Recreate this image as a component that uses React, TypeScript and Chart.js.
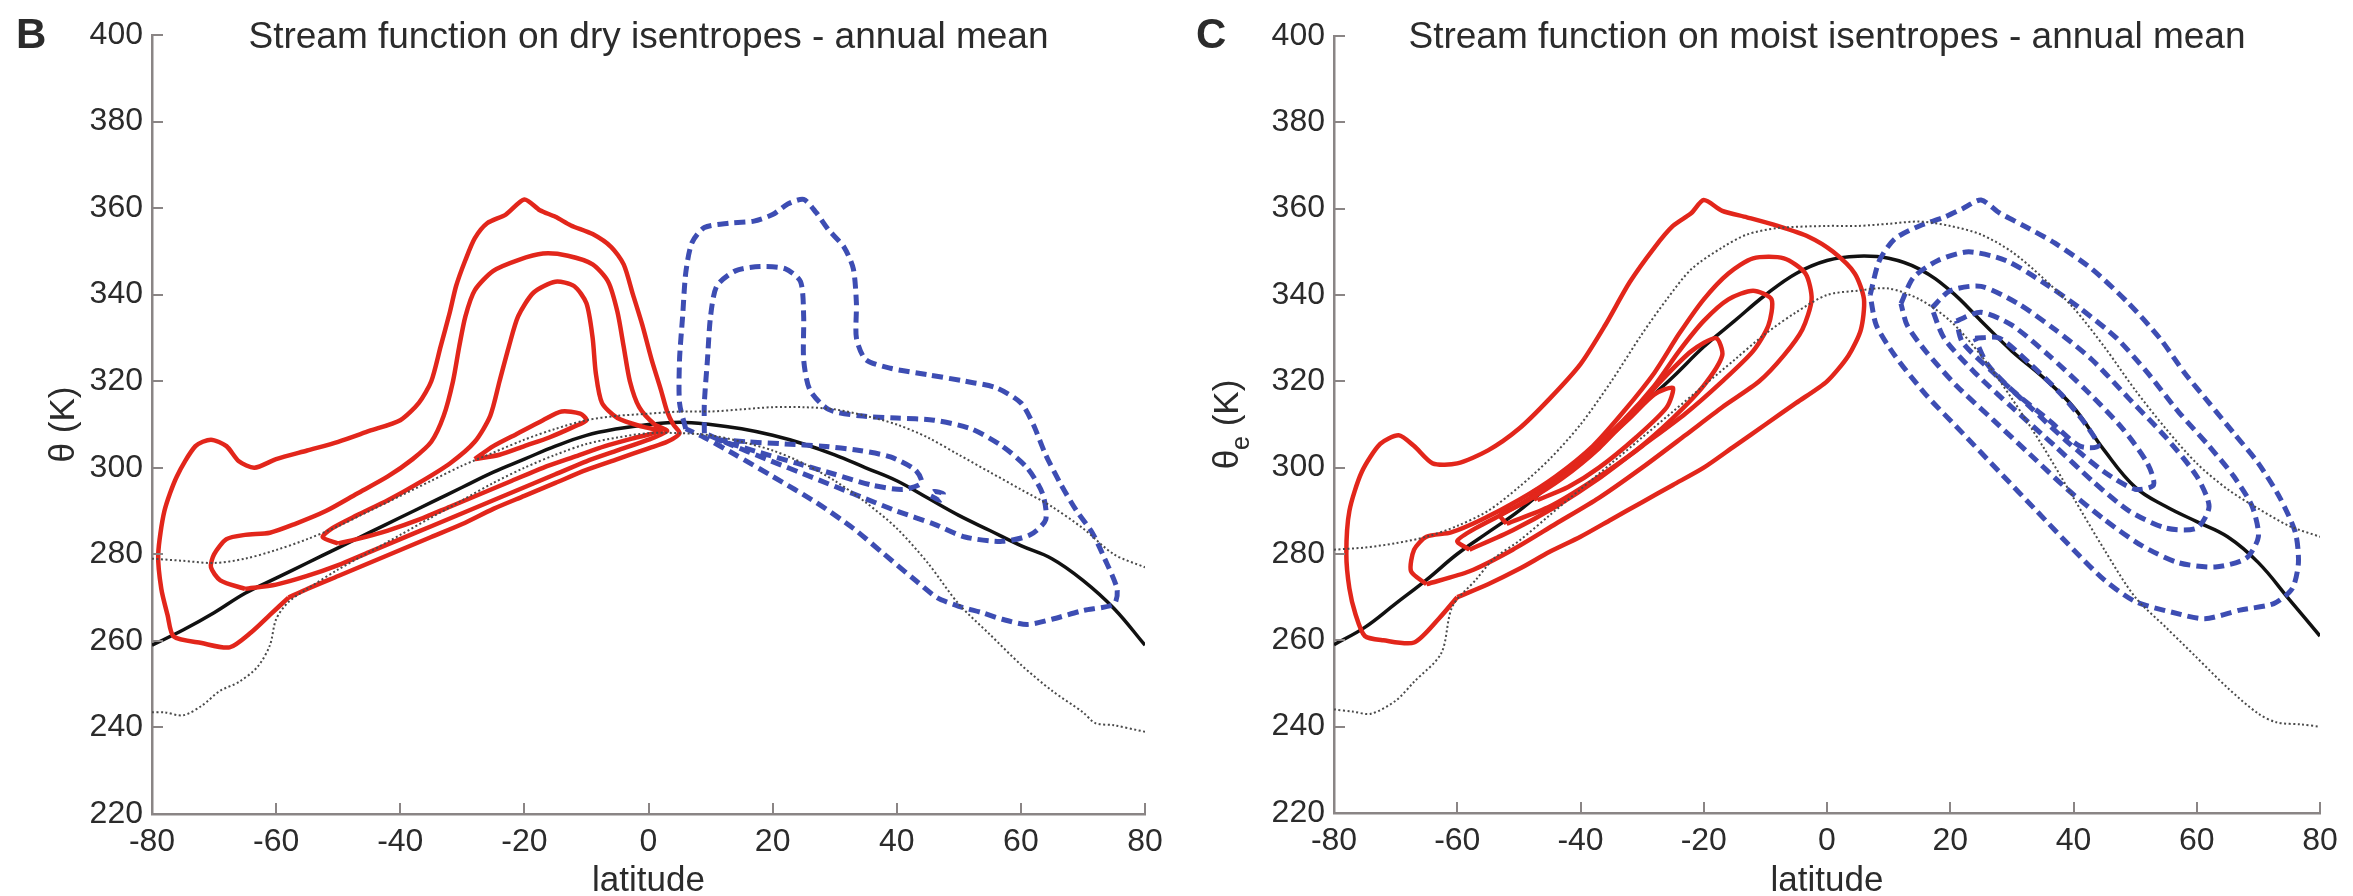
import React, { useEffect, useRef } from "react";
import { Chart, registerables } from "chart.js";
Chart.register(...registerables);

type P = [number, number];

// ---------- shared axes ----------
const latTicks = [-80, -60, -40, -20, 0, 20, 40, 60, 80];
const thetaTicks = [220, 240, 260, 280, 300, 320, 340, 360, 380, 400];

// ---------- Panel B : dry isentropes ----------
const latGrid = [-80, -75, -70, -65, -60, -55, -50, -45, -40, -35, -30, -25, -20, -15, -10, -5, 0, 5, 10, 15, 20, 25, 30, 35, 40, 45, 50, 55, 60, 65, 70, 75, 80];
const blackB = [259, 262.5, 266.5, 271, 274.5, 278, 281.5, 285, 288.5, 292, 295.5, 299, 302, 305, 307.5, 309, 310, 310.5, 310, 309, 307.5, 305.5, 303, 300, 297, 293, 289, 285.5, 282, 279, 274, 267.5, 259];
const upperDotB = [279, 278.5, 278, 279, 281, 283.5, 286.5, 290, 293.5, 297, 300.5, 303.5, 306.5, 309, 311, 312, 312.5, 313, 313, 313.5, 314, 314, 313.5, 312, 310, 307, 303, 299, 295, 291, 286, 280, 277];
const lowerDotB: P[] = [[-80, 243.5], [-78, 243.5], [-75, 242.8], [-72, 245], [-69, 248.5], [-66, 250.5], [-63, 254], [-61, 259], [-60, 265], [-58, 269], [-55, 272], [-50, 276.5], [-45, 280.5], [-40, 284.5], [-35, 288.5], [-30, 292.5], [-25, 296.5], [-20, 300], [-15, 303], [-10, 305.5], [-5, 307], [0, 308], [5, 308], [10, 307.5], [15, 306], [20, 304], [25, 301], [30, 297], [35, 292], [40, 286], [45, 278], [50, 268.5], [55, 261.5], [60, 254.5], [65, 248.5], [70, 243.5], [72, 241], [75, 240.5], [80, 239]];

const redB1: P[] = [[-58, 270], [-61, 266], [-64, 262], [-67.5, 258.5], [-72, 259.5], [-76.5, 261], [-77.5, 266], [-78.5, 272], [-79, 280], [-78, 290], [-76, 298], [-73, 305], [-70.5, 306.5], [-68, 305], [-66, 301.5], [-63.5, 300], [-60, 302], [-55, 304], [-50, 306], [-45, 308.5], [-40, 311], [-37, 315], [-35, 320], [-33.5, 328], [-32, 336], [-31, 342], [-29.5, 348], [-28, 353], [-26, 356.5], [-23, 358.5], [-20, 362], [-17.5, 359.5], [-15, 358], [-12.5, 356], [-9, 354], [-6, 351], [-4, 347], [-2.5, 340], [-1, 333], [0.5, 325], [2, 318], [3, 313], [4, 310], [5, 308], [3, 306], [0, 304.5], [-5, 302], [-10, 299.5], [-15, 296.5], [-20, 293.5], [-25, 290.5], [-30, 287], [-35, 284], [-40, 281], [-45, 278], [-50, 275], [-55, 272], [-58, 270]];
const redB2: P[] = [[-65, 272], [-69, 274], [-70.5, 277], [-70, 280], [-68, 283.5], [-65, 284.5], [-61, 285], [-57, 287], [-52, 290], [-47, 294], [-42, 298], [-38, 302], [-35, 306], [-33, 312], [-31.5, 320], [-30.5, 328], [-29.5, 335], [-28, 341], [-25, 345.5], [-21, 348], [-17, 349.5], [-13, 349], [-9, 347], [-6.5, 343], [-5, 336], [-4, 328], [-3, 320], [-1.5, 314], [1, 310], [3, 308.5], [0, 306.5], [-5, 304], [-10, 301.5], [-15, 298.5], [-20, 295.5], [-25, 292.5], [-30, 289.5], [-35, 286.5], [-40, 283.5], [-45, 280.5], [-50, 277.5], [-55, 275], [-60, 273], [-65, 272]];
const redB3: P[] = [[-50, 282.5], [-52.5, 284], [-51, 286], [-47, 289], [-42, 292.5], [-37, 296.5], [-32, 301], [-28, 306], [-25.5, 312], [-24, 320], [-22.5, 328], [-21, 335], [-18.5, 340.5], [-15, 343], [-12, 342], [-10, 338], [-9, 330], [-8.5, 322], [-7.5, 315], [-5, 311.5], [-1, 309.5], [2, 308.5], [-2, 307], [-7, 305], [-12, 302.5], [-17, 300], [-22, 297], [-27, 294], [-32, 291], [-37, 288], [-42, 285.5], [-47, 283.5], [-50, 282.5]];
const redB4: P[] = [[-28, 302], [-25, 305], [-21, 308], [-17, 311], [-14, 313], [-11, 312.5], [-10, 311], [-12, 309.5], [-16, 307], [-20, 305], [-24, 303], [-28, 302]];

const blueB1: P[] = [[6, 309], [5, 315], [5, 325], [5.5, 335], [6, 345], [7, 352], [9, 355.5], [13, 356.5], [17, 357], [20, 358.5], [22.5, 361], [25, 362], [27, 359], [29, 355], [31.5, 351], [33, 346], [33.5, 338], [33.5, 330], [35, 325], [39, 323], [45, 321.5], [51, 320], [56, 318.5], [60, 315], [62, 310], [64, 303], [66.5, 296], [69, 290], [71.5, 285], [73.5, 279], [75.5, 272], [75, 268.5], [70, 267], [65, 265], [61, 263.8], [57, 265], [53.8, 266.5], [50, 268], [46.5, 270], [43, 274], [38, 280], [33, 286], [27, 292], [20, 298], [14, 303], [9, 307], [6, 309]];
const blueB2: P[] = [[9, 308], [9, 315], [9.5, 325], [10, 335], [11, 342], [14, 345.5], [18, 346.5], [22, 346], [24.5, 343], [25, 335], [25, 325], [26, 318], [29, 313.5], [34, 312], [40, 311.5], [46, 311], [52, 309], [57, 305], [61, 300], [63.5, 294], [64, 288], [61.5, 284.5], [57, 283], [51, 284], [46, 287], [40, 290], [33, 294], [26, 298], [19, 302], [13, 305.5], [9, 308]];
const blueB3: P[] = [[11, 306.5], [16, 306], [22, 305.5], [28, 305], [34, 304], [39, 302.5], [43, 299.5], [44, 296.5], [41, 295], [36, 296], [30, 298.5], [24, 301], [18, 303.5], [11, 306.5]];
const blueB4: P[] = [[45.5, 293.5], [47, 292.5], [47.5, 294], [46, 294.5], [45.5, 293.5]];

// ---------- Panel C : moist isentropes ----------
const blackC = [259, 263, 268.5, 274, 280, 285, 290, 296, 302, 308, 314.5, 321, 328, 334, 340, 345, 348, 349, 348.5, 346, 341, 334, 327, 321, 314, 304, 295.5, 291, 287.5, 284, 278, 269.5, 261];
const upperDotC: P[] = [[-80, 281], [-75, 281.5], [-70, 282.5], [-65, 284], [-60, 286.5], [-55, 290], [-50, 295.5], [-45, 302], [-40, 310], [-35, 320], [-30, 331], [-26, 339], [-22, 346], [-17, 351], [-13, 354], [-8, 355.5], [0, 356], [5, 356], [10, 356.5], [15, 357], [20, 356], [25, 354], [30, 350], [35, 344], [40, 337], [45, 328], [50, 318], [55, 309], [60, 301], [65, 295], [70, 290.5], [75, 286.5], [80, 284]];
const lowerDotC: P[] = [[-80, 244], [-77, 243.5], [-74, 243], [-70, 246], [-67, 250.4], [-62.6, 257], [-60.8, 267.8], [-57, 274], [-54, 279], [-50, 283], [-45, 289], [-40, 295], [-35, 301], [-30, 307], [-25, 313], [-20, 319], [-15, 325], [-10, 331], [-5, 336], [0, 340], [5, 341], [10, 341.5], [15, 339], [20, 334], [25, 326], [30, 316], [35, 305], [40, 293], [45, 281], [50, 270], [55, 263], [60, 256], [65, 249], [70, 243], [73, 241], [77, 240.5], [80, 240]];

const redC1: P[] = [[-60, 270], [-63, 265], [-67, 259.5], [-72, 260], [-75, 261], [-76.5, 266], [-77.5, 272], [-78, 280], [-77.5, 290], [-75.5, 299], [-72.5, 305.5], [-69.5, 307.5], [-67, 305], [-64, 301], [-60, 301], [-55, 304], [-50, 309], [-45, 316], [-40, 324], [-36, 333], [-32, 343], [-28, 351], [-25, 356], [-22, 359], [-20, 362], [-17, 359.5], [-13, 358], [-8, 356], [-3, 353.5], [1, 350], [4.5, 345], [6, 339], [5.5, 332], [3.5, 326], [0, 320], [-5, 315], [-10, 310], [-15, 305], [-20, 300], [-25, 296], [-30, 292], [-35, 288], [-40, 284], [-45, 280.5], [-50, 276.5], [-55, 273], [-60, 270]];
const redC2: P[] = [[-65, 273], [-67.5, 276], [-67, 281], [-65, 284], [-61, 285], [-56, 288], [-50, 292.5], [-44, 298], [-38, 305], [-33, 313], [-28, 322], [-24, 331], [-20, 339], [-16, 345], [-12, 348.5], [-7, 348.5], [-3.5, 345], [-2.5, 339], [-4, 332], [-7, 326], [-11, 320], [-17, 314], [-23, 307.5], [-30, 300], [-37, 293], [-44, 287], [-51, 281], [-58, 276], [-65, 273]];
const redC3: P[] = [[-58, 281], [-60, 283], [-57, 286], [-51, 290.5], [-45, 296], [-39, 303], [-33, 311], [-28, 319], [-24, 327], [-20, 334], [-16, 339], [-12, 341], [-9, 339], [-9.5, 333], [-12, 327], [-17, 320], [-23, 312.5], [-30, 305], [-37, 297.5], [-44, 291], [-51, 285.5], [-58, 281]];
const redC4: P[] = [[-52, 287], [-53, 289], [-49, 292], [-43, 297.5], [-37, 304.5], [-32, 312], [-27, 320], [-22, 327], [-18, 330], [-17, 326], [-20, 319], [-25, 311.5], [-31, 304], [-38, 297], [-45, 291], [-52, 287]];
const redC5: P[] = [[-47, 292.5], [-48, 294], [-43, 298], [-37, 305], [-32, 311.5], [-28, 317], [-25, 318.5], [-26, 314], [-31, 307], [-37, 300], [-42, 295.5], [-47, 292.5]];

const blueC1: P[] = [[7, 340], [8.5, 348], [11, 353], [15, 356], [19, 358], [22, 360], [25, 362], [28, 359], [32, 356], [37, 352], [43, 346], [49, 338], [54, 330], [58, 322], [62, 315], [66, 308], [70, 301], [73.5, 293], [76, 285], [76.5, 278], [75.5, 272], [72.5, 268.5], [67, 267], [61.3, 265], [56, 266.5], [50, 269], [45, 274], [40, 281], [34, 290], [28, 299], [22, 308], [16, 317], [11, 326], [8, 333], [7, 340]];
const blueC2: P[] = [[12, 338], [14, 344], [18, 348], [23, 350], [29, 348], [35, 343], [41, 337], [47, 330], [52, 322], [57, 313], [62, 305], [66, 298], [69, 291], [70, 284], [68, 279], [63, 277], [57, 278], [51, 282], [45, 288], [39, 295], [33, 303], [27, 311], [21, 319], [16, 327], [13, 333], [12, 338]];
const blueC3: P[] = [[17, 337], [20, 341], [25, 342], [31, 338], [37, 332], [43, 325], [49, 316], [55, 307], [60, 298], [62, 291], [60, 286], [55, 286], [49, 290], [43, 297], [37, 305], [30, 314], [24, 322], [19, 330], [17, 337]];
const blueC4: P[] = [[21, 334], [25, 336], [30, 333], [36, 326], [42, 318], [48, 309], [52, 301], [53, 296], [50, 295], [45, 299], [39, 306], [33, 314], [27, 322], [22, 329], [21, 334]];
const blueC5: P[] = [[24, 330], [28, 330], [33, 324], [38, 317], [42, 310], [44, 305], [41, 305], [36, 311], [30, 318], [26, 324], [24, 330]];

// ---------- styles ----------
const FONT = "'Liberation Sans', Arial, Helvetica, sans-serif";
const TXT = "#2b2b2b";
const AXIS = "#8a8585";
const RED = "#e2261b";
const BLUE = "#3d4db3";

const pts = (p: P[]) => p.map(([x, y]) => ({ x, y }));
const grid = (ys: number[]) => latGrid.map((x, i) => ({ x, y: ys[i] }));

const redDs = (p: P[]) => ({ data: pts(p), borderColor: RED, borderWidth: 4.5, tension: 0.25 });
const blueDs = (p: P[]) => ({ data: pts(p), borderColor: BLUE, borderWidth: 5, borderDash: [11, 6], tension: 0.25 });
const dotDs = (d: { x: number; y: number }[]) => ({ data: d, borderColor: "#4a4a4a", borderWidth: 2, borderDash: [2, 2.5], tension: 0.3 });
const blackDs = (d: { x: number; y: number }[]) => ({ data: d, borderColor: "#111", borderWidth: 3.5, tension: 0.4 });

type PanelProps = {
  left: number;
  width: number;
  yAxisW: number;
  padTop: number;
  padRight: number;
  xAxisH: number;
  letter: string;
  letterX: number;
  title: string;
  yLabelX: number;
  sub: boolean;
  datasets: any[];
};

function Panel(props: PanelProps) {
  const ref = useRef<HTMLCanvasElement | null>(null);
  useEffect(() => {
    const cv = ref.current!;
    const textPlugin = {
      id: "txt",
      afterDraw(chart: any) {
        const ctx = chart.ctx;
        const a = chart.chartArea;
        const xs = chart.scales.x;
        const ys = chart.scales.y;
        ctx.save();
        // inward ticks
        ctx.strokeStyle = AXIS;
        ctx.lineWidth = 2;
        latTicks.forEach((v) => {
          const px = Math.round(xs.getPixelForValue(v));
          ctx.beginPath();
          ctx.moveTo(px, a.bottom);
          ctx.lineTo(px, a.bottom - 11);
          ctx.stroke();
        });
        thetaTicks.forEach((v) => {
          const py = Math.round(ys.getPixelForValue(v));
          ctx.beginPath();
          ctx.moveTo(a.left, py);
          ctx.lineTo(a.left + 11, py);
          ctx.stroke();
        });
        ctx.fillStyle = TXT;
        // letter
        ctx.font = `bold 42px ${FONT}`;
        ctx.textAlign = "left";
        ctx.textBaseline = "alphabetic";
        ctx.fillText(props.letter, props.letterX, 48);
        // title
        ctx.font = `37px ${FONT}`;
        ctx.textAlign = "center";
        ctx.fillText(props.title, (a.left + a.right) / 2, 48);
        // x label
        ctx.font = `35px ${FONT}`;
        ctx.fillText("latitude", (a.left + a.right) / 2, 891);
        // y label
        const yc = (a.top + a.bottom) / 2;
        ctx.translate(props.yLabelX, yc);
        ctx.rotate(-Math.PI / 2);
        if (props.sub) {
          const w1 = ctx.measureText("θ").width;
          ctx.font = `25px ${FONT}`;
          const w2 = ctx.measureText("e").width;
          ctx.font = `35px ${FONT}`;
          const w3 = ctx.measureText(" (K)").width;
          const tot = w1 + w2 + w3;
          ctx.textAlign = "left";
          ctx.fillText("θ", -tot / 2, 12);
          ctx.font = `25px ${FONT}`;
          ctx.fillText("e", -tot / 2 + w1, 23);
          ctx.font = `35px ${FONT}`;
          ctx.fillText(" (K)", -tot / 2 + w1 + w2, 12);
        } else {
          ctx.textAlign = "center";
          ctx.fillText("θ (K)", 0, 12);
        }
        ctx.restore();
      },
    };
    const chart = new Chart(cv, {
      type: "scatter",
      data: { datasets: props.datasets.map((d) => ({ ...d, showLine: true, pointRadius: 0, fill: false })) },
      options: {
        animation: false,
        responsive: false,
        maintainAspectRatio: false,
        layout: { padding: { top: props.padTop, right: props.padRight, left: 0, bottom: 0 } },
        plugins: { legend: { display: false }, tooltip: { enabled: false }, title: { display: false } },
        scales: {
          x: {
            type: "linear",
            min: -80,
            max: 80,
            grid: { display: false, drawTicks: false },
            border: { display: true, color: AXIS, width: 2.5 },
            ticks: { stepSize: 20, color: TXT, font: { family: FONT, size: 32 }, padding: 9, maxRotation: 0 },
            afterFit: (s: any) => { s.height = props.xAxisH; },
          },
          y: {
            type: "linear",
            min: 220,
            max: 400,
            grid: { display: false, drawTicks: false },
            border: { display: true, color: AXIS, width: 2.5 },
            ticks: { stepSize: 20, color: TXT, font: { family: FONT, size: 32 }, padding: 9 },
            afterFit: (s: any) => { s.width = props.yAxisW; },
          },
        },
      },
      plugins: [textPlugin],
    } as any);
    return () => chart.destroy();
  }, []);
  return (
    <canvas
      ref={ref}
      width={props.width}
      height={896}
      style={{ position: "absolute", left: props.left, top: 0, width: props.width, height: 896 }}
    />
  );
}

const datasetsB = [
  dotDs(grid(upperDotB)),
  dotDs(pts(lowerDotB)),
  redDs(redB1), redDs(redB2), redDs(redB3), redDs(redB4),
  blueDs(blueB1), blueDs(blueB2), blueDs(blueB3), blueDs(blueB4),
  blackDs(grid(blackB)),
];
const datasetsC = [
  dotDs(pts(upperDotC)),
  dotDs(pts(lowerDotC)),
  redDs(redC1), redDs(redC2), redDs(redC3), redDs(redC4), redDs(redC5),
  blueDs(blueC1), blueDs(blueC2), blueDs(blueC3), blueDs(blueC4), blueDs(blueC5),
  blackDs(grid(blackC)),
];

export default function App() {
  return (
    <div style={{ position: "fixed", left: 0, top: 0, width: 2353, height: 896, background: "#fff", overflow: "hidden" }}>
      <Panel left={0} width={1176} yAxisW={152} padTop={35} padRight={31} xAxisH={82} letter="B" letterX={16}
        title="Stream function on dry isentropes - annual mean" yLabelX={62} sub={false} datasets={datasetsB} />
      <Panel left={1176} width={1177} yAxisW={158} padTop={36} padRight={33} xAxisH={83} letter="C" letterX={20}
        title="Stream function on moist isentropes - annual mean" yLabelX={50} sub={true} datasets={datasetsC} />
    </div>
  );
}
